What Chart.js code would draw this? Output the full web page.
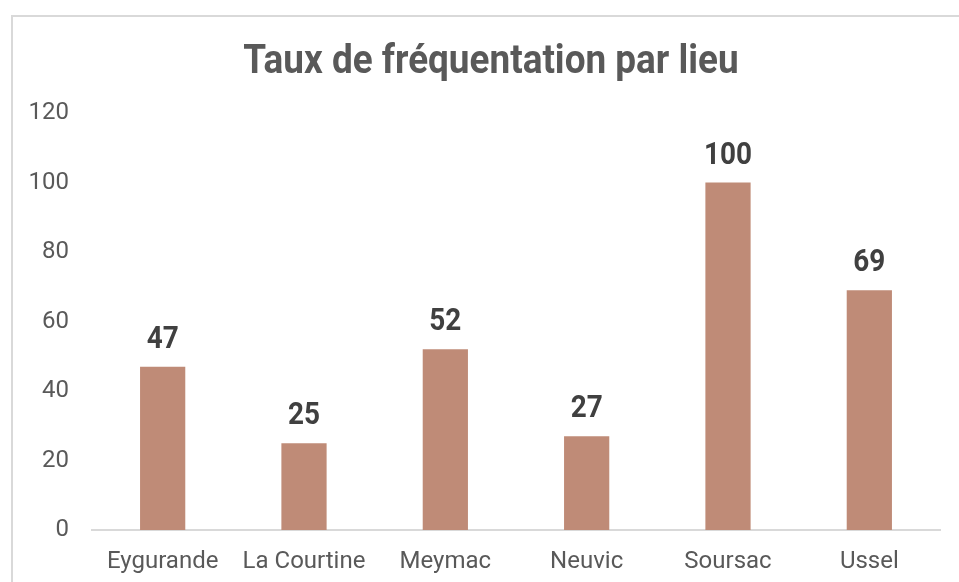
<!DOCTYPE html>
<html>
<head>
<meta charset="utf-8">
<script src="https://cdn.jsdelivr.net/npm/chart.js@4"></script>
<style>
  html, body { margin: 0; padding: 0; background: #fff; overflow: hidden; }
  #frame { position: absolute; left: 11px; top: 15px; width: 1000px; height: 620px; border: 2px solid #d9d9d9; }
  #wrap { position: absolute; left: 0; top: 0; width: 959px; height: 582px; }
</style>
</head>
<body>
<div id="frame"></div>
<div id="wrap"><canvas id="chart" width="959" height="582"></canvas></div>
<script>
// values
const lieux = ['Eygurande', 'La Courtine', 'Meymac', 'Neuvic', 'Soursac', 'Ussel'];
const taux = [47, 25, 52, 27, 100, 69];
const yTicks = [0, 20, 40, 60, 80, 100, 120];
const titre = 'Taux de fréquentation par lieu';

const grey = '#595959';

// bold text in the original is narrower than Roboto, so squeeze it a bit
function narrowText(ctx, text, x, y, size, color) {
    ctx.save();
    ctx.translate(x, y);
    ctx.scale(0.9, 1);
    ctx.font = 'bold ' + size + 'px Roboto';
    ctx.fillStyle = color;
    ctx.textAlign = 'center';
    ctx.textBaseline = 'alphabetic';
    ctx.fillText(text, 0, 0);
    ctx.restore();
}

const textLayer = {
    id: 'textLayer',
    afterDatasetsDraw(chart) {
        const meta = chart.getDatasetMeta(0);
        meta.data.forEach((bar, i) => {
            narrowText(chart.ctx, String(taux[i]), bar.x, bar.y - 19, 31, '#404040');
        });
    },
    afterDraw(chart) {
        // title is centred on the framed box, not on the canvas
        narrowText(chart.ctx, titre, 491, 73, 41, grey);
    }
};

new Chart(document.getElementById('chart'), {
    type: 'bar',
    data: {
        labels: lieux,
        datasets: [{
            data: taux,
            backgroundColor: '#bf8b77',
            barPercentage: 0.32,
            categoryPercentage: 1
        }]
    },
    options: {
        responsive: false,
        animation: false,
        layout: { padding: { left: 0, right: 19, top: 113, bottom: 0 } },
        plugins: {
            legend: { display: false },
            tooltip: { enabled: false },
            title: { display: false }
        },
        scales: {
            x: {
                afterFit(scale) { scale.height = 52; },
                grid: { display: false, drawTicks: false },
                border: { display: true, color: '#d9d9d9', width: 2 },
                ticks: { color: grey, font: { family: 'Roboto', size: 24 }, padding: 18 }
            },
            y: {
                min: 0,
                max: 120,
                afterBuildTicks(scale) {
                    scale.ticks = yTicks.map(v => ({ value: v }));
                },
                afterFit(scale) { scale.width = 92; },
                grid: { display: false, drawTicks: false },
                border: { display: false },
                ticks: { color: grey, font: { family: 'Roboto', size: 24 }, padding: 23 }
            }
        }
    },
    plugins: [textLayer]
});
</script>
</body>
</html>
